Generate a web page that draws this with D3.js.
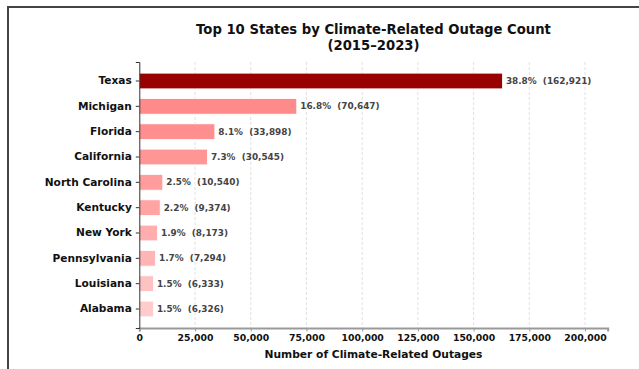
<!DOCTYPE html>
<html>
<head>
<meta charset="utf-8">
<script src="https://cdn.jsdelivr.net/npm/d3@7"></script>
<style>
  html, body { margin: 0; padding: 0; background: #fff; }
  svg { display: block; font-family: "DejaVu Sans", sans-serif; }
</style>
</head>
<body>
<svg id="chart" width="639" height="369"></svg>
<script>
// Top 10 states by climate-related outage count, 2015–2023
const states = ["Texas", "Michigan", "Florida", "California", "North Carolina",
                "Kentucky", "New York", "Pennsylvania", "Louisiana", "Alabama"];
const outages = [162921, 70647, 33898, 30545, 10540, 9374, 8173, 7294, 6333, 6326];
const shares = [38.8, 16.8, 8.1, 7.3, 2.5, 2.2, 1.9, 1.7, 1.5, 1.5];
const barColors = ["#990000", "#ff8a8a", "#ff8f8f", "#ff9696", "#ff9c9c",
                   "#ffa3a3", "#ffadad", "#ffb5b5", "#ffc2c2", "#ffcccc"];
const xTicks = [0, 25000, 50000, 75000, 100000, 125000, 150000, 175000, 200000];

const svg = d3.select("#chart");

// outer frame
svg.append("rect")
  .attr("x", 8).attr("y", 7).attr("width", 700).attr("height", 400)
  .attr("fill", "none").attr("stroke", "#444").attr("stroke-width", 2);

const plot = { left: 139.3, right: 607.7, top: 62, bottom: 328 };

const x = d3.scaleLinear()
  .domain([0, d3.max(outages) * 1.29])
  .range([plot.left, plot.right]);

const y = d3.scaleBand()
  .domain(states)
  .range([plot.top, plot.bottom])
  .paddingInner(0.38)
  .paddingOuter(0.44);

// vertical dashed gridlines
svg.append("g")
  .selectAll("line")
  .data(xTicks.filter(t => t > 0))
  .join("line")
  .attr("x1", d => x(d)).attr("x2", d => x(d))
  .attr("y1", plot.top).attr("y2", plot.bottom)
  .attr("stroke", "#d8d8d8").attr("stroke-width", 0.8)
  .attr("stroke-dasharray", "3,2");

// bars
svg.append("g")
  .selectAll("rect")
  .data(states)
  .join("rect")
  .attr("x", x(0))
  .attr("y", d => y(d))
  .attr("width", (d, i) => x(outages[i]) - x(0))
  .attr("height", y.bandwidth())
  .attr("fill", (d, i) => barColors[i])
  .attr("stroke", "#fff").attr("stroke-width", 0.8);

// value labels
svg.append("g")
  .selectAll("text")
  .data(states)
  .join("text")
  .attr("x", (d, i) => x(outages[i]) + 3.5)
  .attr("y", d => y(d) + y.bandwidth() / 2)
  .attr("dy", "0.35em")
  .attr("font-size", 8.9)
  .attr("font-weight", "bold")
  .attr("fill", "#444")
  .attr("xml:space", "preserve")
  .text((d, i) => `${shares[i].toFixed(1)}%  (${d3.format(",")(outages[i])})`);

// x axis
const xAxis = svg.append("g")
  .attr("transform", `translate(0,${plot.bottom})`)
  .call(d3.axisBottom(x).tickValues(xTicks).tickFormat(d3.format(",")).tickSize(3.5).tickPadding(3));
xAxis.select(".domain").attr("stroke", "#999").attr("stroke-width", 2);
xAxis.selectAll(".tick line").attr("stroke", "#999");
xAxis.selectAll(".tick text")
  .attr("font-family", "DejaVu Sans").attr("font-size", 9.3)
  .attr("font-weight", "bold").attr("fill", "#111");

// y axis
const yAxis = svg.append("g")
  .attr("transform", `translate(${plot.left},0)`)
  .call(d3.axisLeft(y).tickSize(3.5).tickPadding(4));
yAxis.select(".domain").attr("stroke", "#333").attr("stroke-width", 1);
yAxis.selectAll(".tick line").attr("stroke", "#333");
yAxis.selectAll(".tick text")
  .attr("font-family", "DejaVu Sans").attr("font-size", 10.6)
  .attr("font-weight", "bold").attr("fill", "#111");

// axis title
svg.append("text")
  .attr("x", (plot.left + plot.right) / 2)
  .attr("y", 358)
  .attr("text-anchor", "middle")
  .attr("font-size", 10.7)
  .attr("font-weight", "bold")
  .attr("fill", "#111")
  .text("Number of Climate-Related Outages");

// chart title
const title = svg.append("text")
  .attr("text-anchor", "middle")
  .attr("font-size", 13.2)
  .attr("font-weight", "bold")
  .attr("fill", "#111");
title.append("tspan")
  .attr("x", (plot.left + plot.right) / 2).attr("y", 34)
  .text("Top 10 States by Climate-Related Outage Count");
title.append("tspan")
  .attr("x", (plot.left + plot.right) / 2).attr("y", 50)
  .text("(2015–2023)");
</script>
</body>
</html>
